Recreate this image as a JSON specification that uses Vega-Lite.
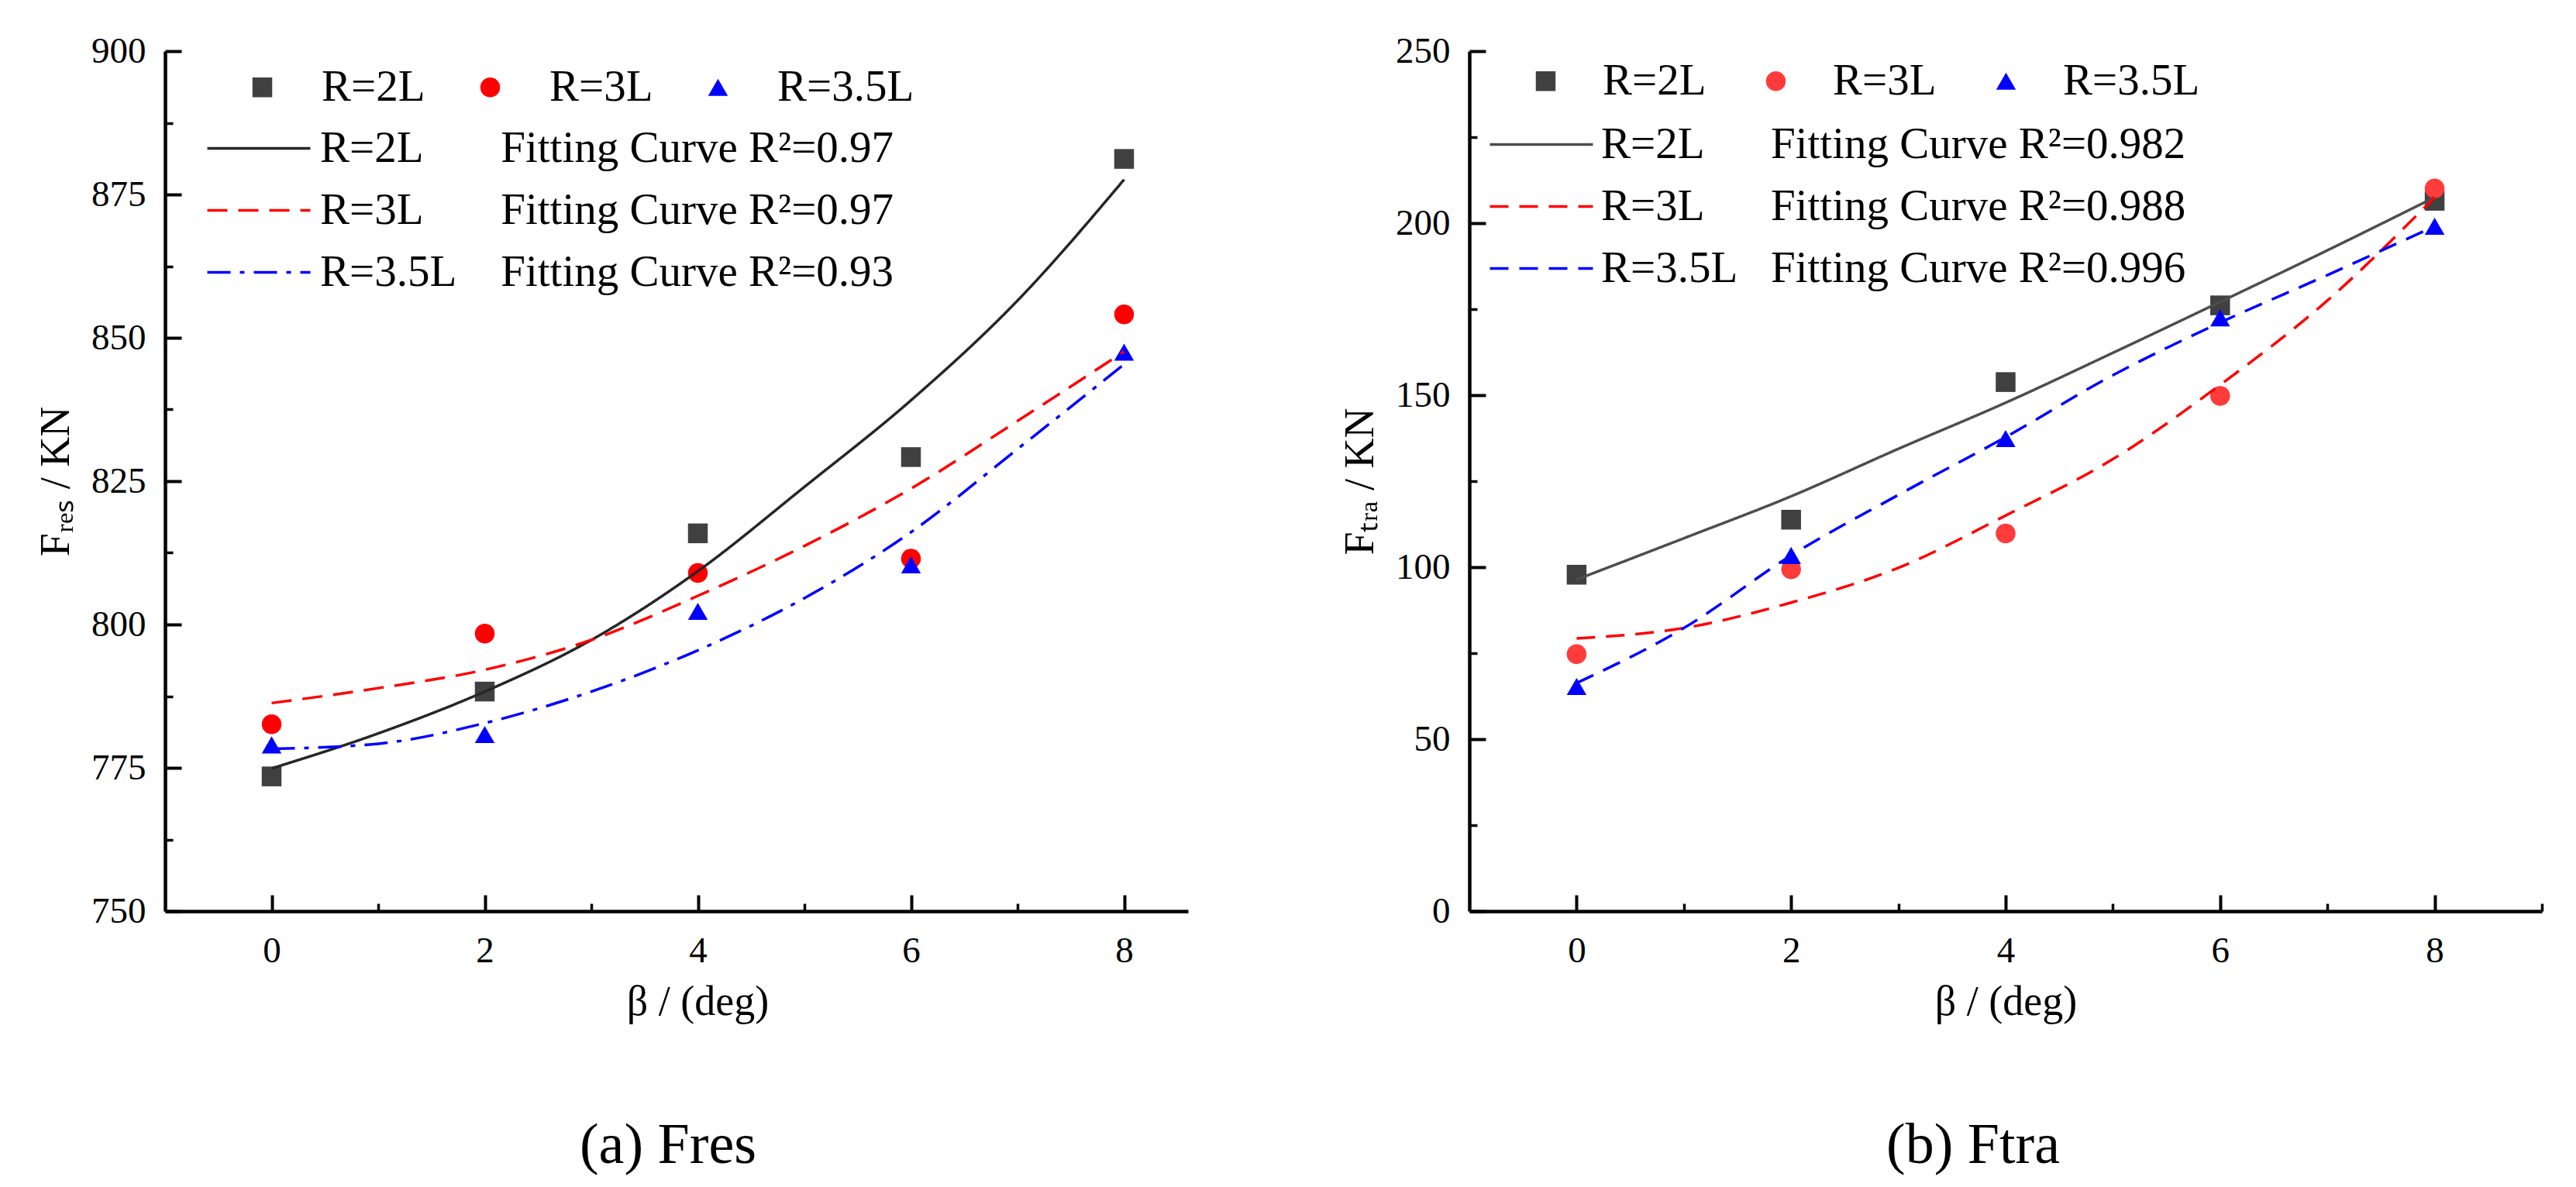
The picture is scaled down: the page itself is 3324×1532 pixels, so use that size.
{
  "$schema": "https://vega.github.io/schema/vega-lite/v6.json",
  "padding": {"left": 45, "top": 42, "right": 20, "bottom": 10},
  "spacing": 195,
  "resolve": {
    "scale": {"color": "independent", "shape": "independent", "strokeDash": "independent"},
    "legend": {"color": "independent", "shape": "independent", "strokeDash": "independent"}
  },
  "datasets": {
    "fresPoints": [
      {"beta": 0, "value": 773.5, "series": "R=2L"},
      {"beta": 2, "value": 788.3, "series": "R=2L"},
      {"beta": 4, "value": 815.9, "series": "R=2L"},
      {"beta": 6, "value": 829.2, "series": "R=2L"},
      {"beta": 8, "value": 881.2, "series": "R=2L"},
      {"beta": 0, "value": 782.6, "series": "R=3L"},
      {"beta": 2, "value": 798.4, "series": "R=3L"},
      {"beta": 4, "value": 809.0, "series": "R=3L"},
      {"beta": 6, "value": 811.5, "series": "R=3L"},
      {"beta": 8, "value": 854.1, "series": "R=3L"},
      {"beta": 0, "value": 779.0, "series": "R=3.5L"},
      {"beta": 2, "value": 780.8, "series": "R=3.5L"},
      {"beta": 4, "value": 802.3, "series": "R=3.5L"},
      {"beta": 6, "value": 810.4, "series": "R=3.5L"},
      {"beta": 8, "value": 847.5, "series": "R=3.5L"}
    ],
    "fresCurves": [
      {"beta": 0, "value": 774.9, "fit": "2L"},
      {"beta": 1, "value": 781.0, "fit": "2L"},
      {"beta": 2, "value": 788.3, "fit": "2L"},
      {"beta": 3, "value": 797.3, "fit": "2L"},
      {"beta": 4, "value": 809.3, "fit": "2L"},
      {"beta": 5, "value": 824.0, "fit": "2L"},
      {"beta": 6, "value": 839.1, "fit": "2L"},
      {"beta": 7, "value": 856.5, "fit": "2L"},
      {"beta": 8, "value": 877.6, "fit": "2L"},
      {"beta": 0, "value": 786.3, "fit": "3L"},
      {"beta": 1, "value": 788.9, "fit": "3L"},
      {"beta": 2, "value": 792.1, "fit": "3L"},
      {"beta": 3, "value": 797.3, "fit": "3L"},
      {"beta": 4, "value": 805.0, "fit": "3L"},
      {"beta": 5, "value": 813.7, "fit": "3L"},
      {"beta": 6, "value": 823.7, "fit": "3L"},
      {"beta": 7, "value": 835.5, "fit": "3L"},
      {"beta": 8, "value": 847.6, "fit": "3L"},
      {"beta": 0, "value": 778.3, "fit": "3.5L"},
      {"beta": 1, "value": 779.2, "fit": "3.5L"},
      {"beta": 2, "value": 782.8, "fit": "3.5L"},
      {"beta": 3, "value": 788.3, "fit": "3.5L"},
      {"beta": 4, "value": 795.5, "fit": "3.5L"},
      {"beta": 5, "value": 804.6, "fit": "3.5L"},
      {"beta": 6, "value": 816.1, "fit": "3.5L"},
      {"beta": 7, "value": 830.6, "fit": "3.5L"},
      {"beta": 8, "value": 845.4, "fit": "3.5L"}
    ],
    "ftraPoints": [
      {"beta": 0, "value": 97.8, "series": "R=2L"},
      {"beta": 2, "value": 113.8, "series": "R=2L"},
      {"beta": 4, "value": 153.8, "series": "R=2L"},
      {"beta": 6, "value": 176.1, "series": "R=2L"},
      {"beta": 8, "value": 206.5, "series": "R=2L"},
      {"beta": 0, "value": 74.7, "series": "R=3L"},
      {"beta": 2, "value": 99.4, "series": "R=3L"},
      {"beta": 4, "value": 109.8, "series": "R=3L"},
      {"beta": 6, "value": 149.8, "series": "R=3L"},
      {"beta": 8, "value": 210.1, "series": "R=3L"},
      {"beta": 0, "value": 65.3, "series": "R=3.5L"},
      {"beta": 2, "value": 103.4, "series": "R=3.5L"},
      {"beta": 4, "value": 137.4, "series": "R=3.5L"},
      {"beta": 6, "value": 172.5, "series": "R=3.5L"},
      {"beta": 8, "value": 199.1, "series": "R=3.5L"}
    ],
    "ftraCurves": [
      {"beta": 0, "value": 96.4, "fit": "2L"},
      {"beta": 1, "value": 108.4, "fit": "2L"},
      {"beta": 2, "value": 120.6, "fit": "2L"},
      {"beta": 3, "value": 134.4, "fit": "2L"},
      {"beta": 4, "value": 147.8, "fit": "2L"},
      {"beta": 5, "value": 162.3, "fit": "2L"},
      {"beta": 6, "value": 177.1, "fit": "2L"},
      {"beta": 7, "value": 192.1, "fit": "2L"},
      {"beta": 8, "value": 207.5, "fit": "2L"},
      {"beta": 0, "value": 79.3, "fit": "3L"},
      {"beta": 1, "value": 82.3, "fit": "3L"},
      {"beta": 2, "value": 89.7, "fit": "3L"},
      {"beta": 3, "value": 99.8, "fit": "3L"},
      {"beta": 4, "value": 115.0, "fit": "3L"},
      {"beta": 5, "value": 131.4, "fit": "3L"},
      {"beta": 6, "value": 153.0, "fit": "3L"},
      {"beta": 7, "value": 177.5, "fit": "3L"},
      {"beta": 8, "value": 207.5, "fit": "3L"},
      {"beta": 0, "value": 66.3, "fit": "3.5L"},
      {"beta": 1, "value": 82.3, "fit": "3.5L"},
      {"beta": 2, "value": 103.4, "fit": "3.5L"},
      {"beta": 3, "value": 121.0, "fit": "3.5L"},
      {"beta": 4, "value": 137.8, "fit": "3.5L"},
      {"beta": 5, "value": 155.8, "fit": "3.5L"},
      {"beta": 6, "value": 171.1, "fit": "3.5L"},
      {"beta": 7, "value": 184.9, "fit": "3.5L"},
      {"beta": 8, "value": 199.1, "fit": "3.5L"}
    ]
  },
  "hconcat": [
    {
      "width": 1320,
      "height": 1110,
      "title": {"text": "(a) Fres", "orient": "bottom", "frame": "group", "anchor": "middle", "dx": -11, "fontSize": 74, "fontWeight": "normal", "offset": 123},
      "resolve": {
        "scale": {"color": "independent", "shape": "independent", "strokeDash": "independent"},
        "legend": {"color": "independent", "shape": "independent", "strokeDash": "independent"},
        "axis": {"x": "independent", "y": "independent"}
      },
      "layer": [
        {
          "data": {"name": "fresPoints"},
          "mark": {"type": "point", "filled": true, "size": 650, "opacity": 1},
          "encoding": {
            "x": {
              "field": "beta", "type": "quantitative",
              "scale": {"domain": [-1, 8.6], "nice": false, "zero": false},
              "axis": {"orient": "bottom", "values": [0, 2, 4, 6, 8], "tickSize": -21, "tickWidth": 4, "labelPadding": 49, "title": "β / (deg)", "titlePadding": 16, "titleX": 687}
            },
            "y": {
              "field": "value", "type": "quantitative",
              "scale": {"domain": [750, 900], "nice": false, "zero": false},
              "axis": {"orient": "left", "values": [750, 775, 800, 825, 850, 875, 900], "tickSize": -21, "tickWidth": 4, "labelPadding": 46, "title": "Fᵣₑₛ / KN", "titlePadding": 18}
            },
            "shape": {
              "field": "series", "type": "nominal",
              "scale": {"domain": ["R=2L", "R=3L", "R=3.5L"], "range": ["square", "circle", "triangle-up"]},
              "legend": {"orient": "none", "legendX": 97, "legendY": 18, "direction": "horizontal", "columns": 3, "columnPadding": 55, "labelOffset": 48, "symbolSize": 650, "symbolStrokeWidth": 0, "title": null}
            },
            "color": {
              "field": "series", "type": "nominal",
              "scale": {"domain": ["R=2L", "R=3L", "R=3.5L"], "range": ["#404040", "#ff0000", "#0000ff"]},
              "legend": {"orient": "none", "legendX": 97, "legendY": 18, "direction": "horizontal", "columns": 3, "columnPadding": 55, "labelOffset": 48, "symbolSize": 650, "symbolStrokeWidth": 0, "title": null}
            }
          }
        },
        {
          "data": {"name": "fresCurves"},
          "mark": {"type": "line", "interpolate": "monotone", "strokeWidth": 3.5},
          "encoding": {
            "x": {
              "field": "beta", "type": "quantitative",
              "scale": {"domain": [-1, 8.6], "nice": false, "zero": false},
              "axis": {"orient": "bottom", "values": [1, 3, 5, 7], "tickSize": -10, "tickWidth": 3.5, "labels": false, "domain": false, "title": null}
            },
            "y": {
              "field": "value", "type": "quantitative",
              "scale": {"domain": [750, 900], "nice": false, "zero": false},
              "axis": {"orient": "left", "values": [762.5, 787.5, 812.5, 837.5, 862.5, 887.5], "tickSize": -10, "tickWidth": 3.5, "labels": false, "domain": false, "title": null}
            },
            "strokeDash": {
              "field": "fit", "type": "nominal",
              "scale": {"domain": ["2L", "3L", "3.5L"], "range": [[1, 0], [26, 14], [30, 12, 6, 12]]},
              "legend": {"orient": "none", "legendX": 149, "legendY": 97, "direction": "vertical", "symbolType": "M-12.3,0H1", "symbolSize": 400, "symbolStrokeWidth": 3.5, "symbolFillColor": "transparent", "labelOffset": -6, "rowPadding": 22, "title": null,
                "labelExpr": "datum.label === '2L' ? 'R=2L\u00a0\u00a0\u00a0\u00a0\u00a0\u00a0\u00a0Fitting Curve R\u00b2=0.97' : datum.label === '3L' ? 'R=3L\u00a0\u00a0\u00a0\u00a0\u00a0\u00a0\u00a0Fitting Curve R\u00b2=0.97' : 'R=3.5L\u00a0\u00a0\u00a0\u00a0Fitting Curve R\u00b2=0.93'"}
            },
            "color": {
              "field": "fit", "type": "nominal",
              "scale": {"domain": ["2L", "3L", "3.5L"], "range": ["#262626", "#ff0000", "#0000ff"]},
              "legend": {"orient": "none", "legendX": 149, "legendY": 97, "direction": "vertical", "symbolType": "M-12.3,0H1", "symbolSize": 400, "symbolStrokeWidth": 3.5, "symbolFillColor": "transparent", "labelOffset": -6, "rowPadding": 22, "title": null,
                "labelExpr": "datum.label === '2L' ? 'R=2L\u00a0\u00a0\u00a0\u00a0\u00a0\u00a0\u00a0Fitting Curve R\u00b2=0.97' : datum.label === '3L' ? 'R=3L\u00a0\u00a0\u00a0\u00a0\u00a0\u00a0\u00a0Fitting Curve R\u00b2=0.97' : 'R=3.5L\u00a0\u00a0\u00a0\u00a0Fitting Curve R\u00b2=0.93'"}
            }
          }
        }
      ]
    },
    {
      "width": 1384,
      "height": 1110,
      "title": {"text": "(b) Ftra", "orient": "bottom", "frame": "group", "anchor": "middle", "dx": -42, "fontSize": 74, "fontWeight": "normal", "offset": 123},
      "resolve": {
        "scale": {"color": "independent", "shape": "independent", "strokeDash": "independent"},
        "legend": {"color": "independent", "shape": "independent", "strokeDash": "independent"},
        "axis": {"x": "independent", "y": "independent"}
      },
      "layer": [
        {
          "data": {"name": "ftraPoints"},
          "mark": {"type": "point", "filled": true, "size": 650, "opacity": 1},
          "encoding": {
            "x": {
              "field": "beta", "type": "quantitative",
              "scale": {"domain": [-1, 9], "nice": false, "zero": false},
              "axis": {"orient": "bottom", "values": [0, 2, 4, 6, 8], "tickSize": -21, "tickWidth": 4, "labelPadding": 49, "title": "β / (deg)", "titlePadding": 16}
            },
            "y": {
              "field": "value", "type": "quantitative",
              "scale": {"domain": [0, 250], "nice": false, "zero": false},
              "axis": {"orient": "left", "values": [0, 50, 100, 150, 200, 250], "tickSize": -21, "tickWidth": 4, "labelPadding": 46, "title": "Fₜᵣₐ / KN", "titlePadding": 18}
            },
            "shape": {
              "field": "series", "type": "nominal",
              "scale": {"domain": ["R=2L", "R=3L", "R=3.5L"], "range": ["square", "circle", "triangle-up"]},
              "legend": {"orient": "none", "legendX": 70, "legendY": 10, "direction": "horizontal", "columns": 3, "columnPadding": 61, "labelOffset": 45, "symbolSize": 650, "symbolStrokeWidth": 0, "title": null}
            },
            "color": {
              "field": "series", "type": "nominal",
              "scale": {"domain": ["R=2L", "R=3L", "R=3.5L"], "range": ["#404040", "#ff3b3b", "#0000ff"]},
              "legend": {"orient": "none", "legendX": 70, "legendY": 10, "direction": "horizontal", "columns": 3, "columnPadding": 61, "labelOffset": 45, "symbolSize": 650, "symbolStrokeWidth": 0, "title": null}
            }
          }
        },
        {
          "data": {"name": "ftraCurves"},
          "mark": {"type": "line", "interpolate": "monotone", "strokeWidth": 3.5},
          "encoding": {
            "x": {
              "field": "beta", "type": "quantitative",
              "scale": {"domain": [-1, 9], "nice": false, "zero": false},
              "axis": {"orient": "bottom", "values": [1, 3, 5, 7, 9], "tickSize": -10, "tickWidth": 3.5, "labels": false, "domain": false, "title": null}
            },
            "y": {
              "field": "value", "type": "quantitative",
              "scale": {"domain": [0, 250], "nice": false, "zero": false},
              "axis": {"orient": "left", "values": [25, 75, 125, 175, 225], "tickSize": -10, "tickWidth": 3.5, "labels": false, "domain": false, "title": null}
            },
            "strokeDash": {
              "field": "fit", "type": "nominal",
              "scale": {"domain": ["2L", "3L", "3.5L"], "range": [[1, 0], [24, 14], [24, 14]]},
              "legend": {"orient": "none", "legendX": 121, "legendY": 92, "direction": "vertical", "symbolType": "M-12.3,0H1", "symbolSize": 400, "symbolStrokeWidth": 3.5, "symbolFillColor": "transparent", "labelOffset": -8, "rowPadding": 22, "title": null,
                "labelExpr": "datum.label === '2L' ? 'R=2L\u00a0\u00a0\u00a0\u00a0\u00a0\u00a0Fitting Curve R\u00b2=0.982' : datum.label === '3L' ? 'R=3L\u00a0\u00a0\u00a0\u00a0\u00a0\u00a0Fitting Curve R\u00b2=0.988' : 'R=3.5L\u00a0\u00a0\u00a0Fitting Curve R\u00b2=0.996'"}
            },
            "color": {
              "field": "fit", "type": "nominal",
              "scale": {"domain": ["2L", "3L", "3.5L"], "range": ["#4d4d4d", "#ff0000", "#0000ff"]},
              "legend": {"orient": "none", "legendX": 121, "legendY": 92, "direction": "vertical", "symbolType": "M-12.3,0H1", "symbolSize": 400, "symbolStrokeWidth": 3.5, "symbolFillColor": "transparent", "labelOffset": -8, "rowPadding": 22, "title": null,
                "labelExpr": "datum.label === '2L' ? 'R=2L\u00a0\u00a0\u00a0\u00a0\u00a0\u00a0Fitting Curve R\u00b2=0.982' : datum.label === '3L' ? 'R=3L\u00a0\u00a0\u00a0\u00a0\u00a0\u00a0Fitting Curve R\u00b2=0.988' : 'R=3.5L\u00a0\u00a0\u00a0Fitting Curve R\u00b2=0.996'"}
            }
          }
        }
      ]
    }
  ],
  "config": {
    "font": "Liberation Serif",
    "view": {"stroke": null},
    "axis": {
      "grid": false,
      "domainColor": "black",
      "domainWidth": 4.5,
      "tickColor": "black",
      "labelColor": "black",
      "labelFontSize": 47,
      "labelFont": "Liberation Serif",
      "titleColor": "black",
      "titleFont": "Liberation Serif",
      "titleFontSize": 54,
      "titleFontWeight": "normal",
      "labelFlush": false,
      "labelOverlap": false
    },
    "legend": {
      "padding": 0,
      "labelFont": "Liberation Serif",
      "labelFontSize": 57,
      "labelColor": "black",
      "labelLimit": 0
    },
    "title": {"font": "Liberation Serif", "color": "black"}
  }
}
